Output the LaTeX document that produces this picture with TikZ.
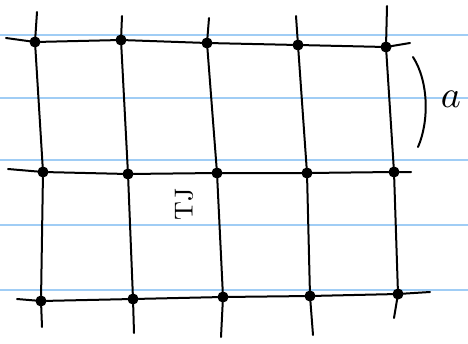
\documentclass[tikz,border=0pt]{standalone}
\usepackage{amsmath}
\usetikzlibrary{positioning}
\definecolor{ruling}{RGB}{160,205,245}

\begin{document}
\begin{tikzpicture}[x=1pt,y=-1pt,
  site/.style={circle,draw,fill=black,inner sep=0pt,minimum size=10pt,line width=1pt},
  bond/.style={line width=2pt,line cap=round},
  ruled/.style={ruling,line width=1.3pt}]
\useasboundingbox (0,0) rectangle (468,343);
% Ruled paper
\foreach \ry in {35,98,160,225,290}
  \draw[ruled] (0,\ry) -- (468,\ry);
% Lattice sites
\foreach \c/\x/\y in {1/35/42, 2/121/40, 3/207/43, 4/298/45, 5/386/47}
  \node[site] (s1\c) at (\x,\y) {};
\foreach \c/\x/\y in {1/43/172, 2/128/174, 3/217/173, 4/307/173, 5/394/172}
  \node[site] (s2\c) at (\x,\y) {};
\foreach \c/\x/\y in {1/41/301, 2/133/299, 3/223/297, 4/310/296, 5/398/294}
  \node[site] (s3\c) at (\x,\y) {};
% Loose ends of the rows
\coordinate (w1) at (6,38);   \coordinate (e1) at (410,43);
\coordinate (w2) at (8,169);  \coordinate (e2) at (411,172);
\coordinate (w3) at (17,299); \coordinate (e3) at (430,292);
% Loose ends of the columns
\foreach \c/\x/\y/\u/\v in {1/37/12/42/327, 2/122/16/134/333, 3/209/18/221/337,
                             4/296/16/313/335, 5/387/6/394/318}{
  \coordinate (n\c) at (\x,\y);
  \coordinate (b\c) at (\u,\v);
}
% Rows
\foreach \r in {1,2,3}
  \draw[bond] (w\r) -- (s\r1) -- (s\r2) -- (s\r3) -- (s\r4) -- (s\r5) -- (e\r);
% Columns
\foreach \c in {1,...,5}
  \draw[bond] (n\c) -- (s1\c) -- (s2\c) -- (s3\c) -- (b\c);
% Spacing
\draw[bond] (413,57) .. controls (429,82) and (429,122) .. (418,147);
\node[scale=3.8] (spacing) at (451,99) {$a$};
\node[rotate=90,scale=2.6] (plaq) at (184,204) {TJ};
\end{tikzpicture}
\end{document}
